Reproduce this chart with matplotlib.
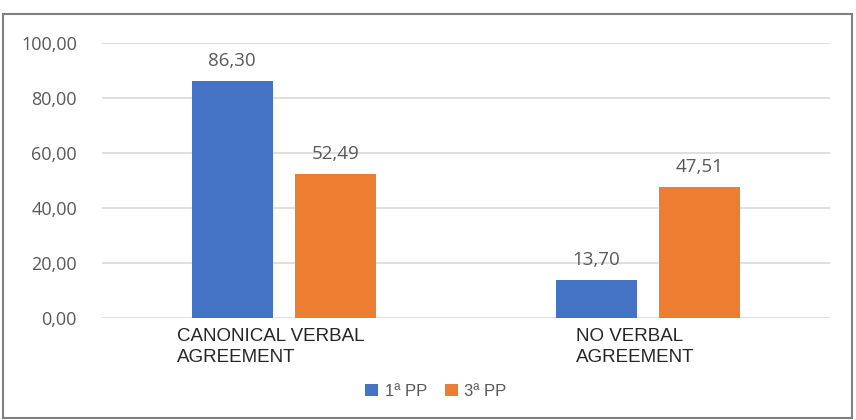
import matplotlib
matplotlib.use("Agg")
import matplotlib.pyplot as plt
from matplotlib.patches import Rectangle
import matplotlib.transforms as mtransforms
import numpy as np

categories = ["CANONICAL VERBAL\nAGREEMENT", "NO VERBAL\nAGREEMENT"]
series_names = ["1ª PP", "3ª PP"]
pp1 = [86.30, 13.70]
pp3 = [52.49, 47.51]
yticks = [0, 20, 40, 60, 80, 100]

blue = "#4472C4"
orange = "#ED7D31"
grey_txt = "#595959"

fig = plt.figure(figsize=(8.56, 4.2), dpi=100)
ax = fig.add_axes([102/856, 102/420, 728/856, 275/420])

x = np.arange(len(categories))
w = 0.222
off = 0.142
b1 = ax.bar(x - off, pp1, w, color=blue, label=series_names[0], zorder=3)
b2 = ax.bar(x + off, pp3, w, color=orange, label=series_names[1], zorder=3)

def fmt(v):
    return f"{v:.2f}".replace(".", ",")

for bars, vals in ((b1, pp1), (b2, pp3)):
    for r, v in zip(bars, vals):
        ax.annotate(fmt(v), (r.get_x() + r.get_width()/2, v), xytext=(0, 8),
                    textcoords="offset points", ha="center", va="bottom",
                    fontsize=13.5, color=grey_txt, family="Open Sans")

ax.set_xlim(-0.5, 1.5)
ax.set_ylim(0, 100)
ax.set_yticks(yticks)
ax.set_yticklabels([fmt(v) for v in yticks], fontsize=13, color=grey_txt,
                   family="Open Sans")
ax.set_xticks(x)
ax.set_xticklabels([])

# category labels, nudged a little left like the original
trans = ax.get_xaxis_transform() + mtransforms.ScaledTranslation(-13/100, -10/100, fig.dpi_scale_trans)
for xi, cat in zip(x, categories):
    ax.text(xi, 0, cat, transform=trans, ha="center", va="top", multialignment="left",
            linespacing=1.3, fontsize=13.5, color="#262626", family="Liberation Sans")

ax.tick_params(axis="both", length=0)
ax.tick_params(axis="y", pad=18)
ax.yaxis.grid(True, color="#D9D9D9", lw=1.2, zorder=0)
for s in ax.spines.values():
    s.set_visible(False)

fig.legend(handles=[b1, b2], loc="center", bbox_to_anchor=(436/856, 1 - 391/420),
           ncol=2, frameon=False, labelcolor=grey_txt,
           handlelength=0.75, handleheight=0.75, handletextpad=0.4, columnspacing=1.1,
           prop={"family": "Liberation Sans", "size": 12})

fig.patches.append(Rectangle((3/856, 2/420), 849/856, 404/420, transform=fig.transFigure,
                             fill=False, edgecolor="#7F7F7F", lw=1.5))

fig.savefig("out.png", dpi=100)
